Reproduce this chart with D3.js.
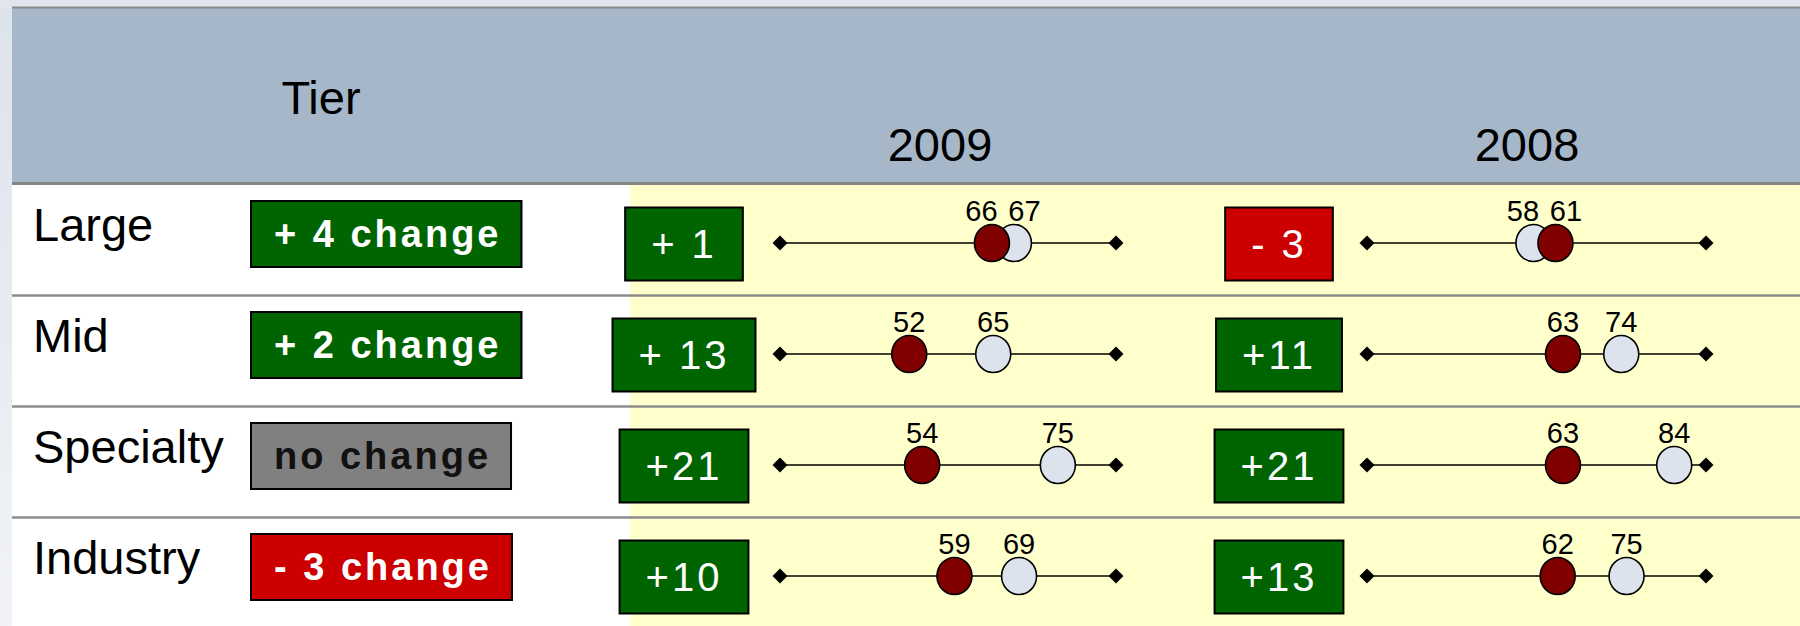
<!DOCTYPE html>
<html>
<head>
<meta charset="utf-8">
<script src="https://cdn.jsdelivr.net/npm/d3@7"></script>
<style>
html,body{margin:0;padding:0;background:#e1e6ee;}
svg{display:block;}
</style>
</head>
<body>
<svg id="chart" width="1800" height="626"></svg>
<script>
// ---------------- DATA ----------------
const tiers = ["Large", "Mid", "Specialty", "Industry"];
const years = ["2009", "2008"];
const headerTier = "Tier";

// dark red markers (first score) and light markers (second score)
const red2009   = [66, 52, 54, 59];
const light2009 = [67, 65, 75, 69];
const red2008   = [61, 63, 63, 62];
const light2008 = [58, 74, 84, 75];

// gap boxes per year
const gapLabels2009 = ["+ 1", "+ 13", "+21", "+10"];
const gapKinds2009  = ["up", "up", "up", "up"];
const gapLabels2008 = ["- 3", "+11", "+21", "+13"];
const gapKinds2008  = ["down", "up", "up", "up"];

// change column
const changeLabels = ["+ 4 change", "+ 2 change", "no change", "- 3 change"];
const changeKinds  = ["up", "up", "flat", "down"];

// ---------------- LAYOUT / STYLE ----------------
const W = 1800, H = 626;
const FONT = '"Liberation Sans", Arial, Helvetica, sans-serif';
const kindFill = {up: "#006400", down: "#cc0000", flat: "#808080"};
const kindText = {up: "#ffffff", down: "#ffffff", flat: "#111111"};
const leftX = 12, headerTop = 8, headerBottom = 183, yellowX = 630;

const svg = d3.select("#chart");

const defs = svg.append("defs");
const grad = defs.append("linearGradient").attr("id", "strip").attr("x1", 0).attr("y1", 0).attr("x2", 0).attr("y2", 1);
grad.append("stop").attr("offset", "0%").attr("stop-color", "#dde3ec");
grad.append("stop").attr("offset", "100%").attr("stop-color", "#f1f3f7");

svg.append("rect").attr("x", 0).attr("y", 0).attr("width", W).attr("height", H).attr("fill", "url(#strip)");
svg.append("rect").attr("x", 0).attr("y", 0).attr("width", W).attr("height", headerTop).attr("fill", "#e1e6ee");

// header band
svg.append("rect").attr("x", leftX).attr("y", headerTop).attr("width", W - leftX)
  .attr("height", headerBottom - headerTop).attr("fill", "#a5b7c9");

// body backgrounds
svg.append("rect").attr("x", leftX).attr("y", headerBottom).attr("width", yellowX - leftX)
  .attr("height", H - headerBottom).attr("fill", "#ffffff");
svg.append("rect").attr("x", yellowX).attr("y", headerBottom).attr("width", W - yellowX)
  .attr("height", H - headerBottom).attr("fill", "#ffffcc");

// scales
const y = d3.scaleBand().domain(tiers).range([184, 628]).paddingInner(0).paddingOuter(0);
const x2009 = d3.scaleLinear().domain([32, 84]).range([780, 1116]);
const x2008 = d3.scaleLinear().domain([26, 90]).range([1367, 1706]);

// borders
svg.append("line").attr("x1", leftX).attr("x2", W).attr("y1", 7.5).attr("y2", 7.5)
  .attr("stroke", "#8a8a8a").attr("stroke-width", 2);
svg.append("line").attr("x1", leftX).attr("x2", W).attr("y1", headerBottom + 0.5).attr("y2", headerBottom + 0.5)
  .attr("stroke", "#858585").attr("stroke-width", 3);
svg.selectAll("line.sep").data(tiers.slice(1)).join("line").attr("class", "sep")
  .attr("x1", leftX).attr("x2", W)
  .attr("y1", d => y(d) + 0.5).attr("y2", d => y(d) + 0.5)
  .attr("stroke", "#8c8c8c").attr("stroke-width", 2.5);

// header texts
svg.append("text").attr("x", 321).attr("y", 114).attr("text-anchor", "middle")
  .attr("font-family", FONT).attr("font-size", 47).attr("fill", "#000").text(headerTier);
const yearX = {"2009": 940, "2008": 1527};
svg.selectAll("text.year").data(years).join("text").attr("class", "year")
  .attr("x", d => yearX[d]).attr("y", 161).attr("text-anchor", "middle")
  .attr("font-family", FONT).attr("font-size", 47).attr("fill", "#000").text(d => d);

// row labels
svg.selectAll("text.tier").data(tiers).join("text").attr("class", "tier")
  .attr("x", 33).attr("y", d => y(d) + 57)
  .attr("font-family", FONT).attr("font-size", 47).attr("fill", "#000").text(d => d);

// change boxes
tiers.forEach((t, i) => {
  const g = svg.append("g");
  const cy = y(t) + 50;
  const rect = g.append("rect");
  const txt = g.append("text")
    .attr("x", 251 + 23).attr("y", cy + 13)
    .attr("font-family", FONT).attr("font-size", 38).attr("font-weight", "bold")
    .attr("letter-spacing", "3px")
    .attr("fill", kindText[changeKinds[i]]).text(changeLabels[i]);
  const tw = txt.node().getBBox().width;
  rect.attr("x", 251).attr("y", cy - 33).attr("width", tw + 43).attr("height", 66)
    .attr("fill", kindFill[changeKinds[i]]).attr("stroke", "#000").attr("stroke-width", 2);
});

// dumbbell columns
const cols = [
  {year: "2009", x: x2009, red: red2009, light: light2009, labels: gapLabels2009, kinds: gapKinds2009, boxCx: 684},
  {year: "2008", x: x2008, red: red2008, light: light2008, labels: gapLabels2008, kinds: gapKinds2008, boxCx: 1279}
];

function dodge(a, b, minSep) {
  if (Math.abs(b - a) < minSep) {
    const m = (a + b) / 2;
    const s = b >= a ? 1 : -1;
    return [m - s * minSep / 2, m + s * minSep / 2];
  }
  return [a, b];
}

const diamond = d3.symbol().type(d3.symbolSquare).size(112);

cols.forEach(c => {
  const [x0, x1] = c.x.range();
  tiers.forEach((t, i) => {
    const lineY = y(t) + 59;
    const g = svg.append("g");

    // gap box
    const by = lineY + 1;
    const brect = g.append("rect");
    const btxt = g.append("text")
      .attr("x", c.boxCx).attr("y", by + 14).attr("text-anchor", "middle")
      .attr("font-family", FONT).attr("font-size", 40).attr("letter-spacing", "3px")
      .attr("fill", "#fff").text(c.labels[i]);
    const bw = btxt.node().getBBox().width;
    brect.attr("x", c.boxCx - bw / 2 - 26).attr("y", by - 36.5).attr("width", bw + 52).attr("height", 73)
      .attr("fill", kindFill[c.kinds[i]]).attr("stroke", "#000").attr("stroke-width", 2);
    btxt.raise();

    // axis line
    g.append("line").attr("x1", x0).attr("x2", x1).attr("y1", lineY).attr("y2", lineY)
      .attr("stroke", "#000").attr("stroke-width", 1.7);
    g.selectAll("path.end").data([x0, x1]).join("path").attr("class", "end")
      .attr("d", diamond)
      .attr("transform", d => `translate(${d},${lineY}) rotate(45)`)
      .attr("fill", "#000");

    // circle positions via scale, with a small dodge for near-overlaps
    const rv = c.red[i], lv = c.light[i];
    let rx = c.x(rv), lx = c.x(lv);
    if (rv <= lv) { [rx, lx] = dodge(rx, lx, 22); } else { [lx, rx] = dodge(lx, rx, 22); }

    g.append("ellipse").attr("cx", lx).attr("cy", lineY).attr("rx", 17.5).attr("ry", 18.5)
      .attr("fill", "#dce3ec").attr("stroke", "#000").attr("stroke-width", 1.6);
    g.append("ellipse").attr("cx", rx).attr("cy", lineY).attr("rx", 17.5).attr("ry", 18.5)
      .attr("fill", "#800000").attr("stroke", "#000").attr("stroke-width", 1.6);

    // value labels
    let rlx = rx, llx = lx;
    if (rv <= lv) { [rlx, llx] = dodge(rx, lx, 43); } else { [llx, rlx] = dodge(lx, rx, 43); }
    [[rlx, rv], [llx, lv]].forEach(([px, v]) => {
      g.append("text").attr("x", px).attr("y", lineY - 22).attr("text-anchor", "middle")
        .attr("font-family", FONT).attr("font-size", 29).attr("fill", "#000").text(v);
    });
  });
});
</script>
</body>
</html>
